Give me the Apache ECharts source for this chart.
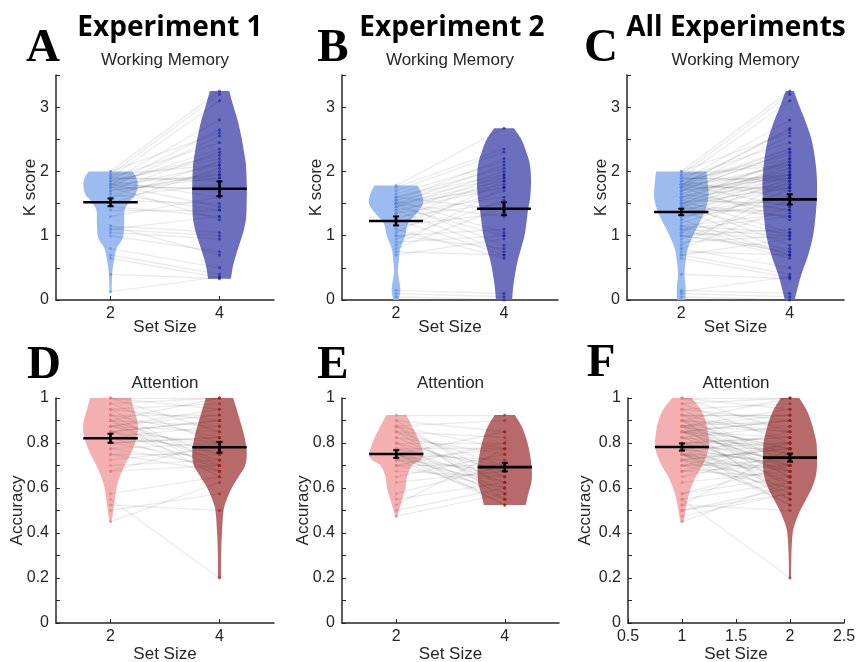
<!DOCTYPE html>
<html>
<head>
<meta charset="utf-8">
<script src="https://cdn.jsdelivr.net/npm/echarts@6/dist/echarts.min.js"></script>
<style>
  html, body { margin: 0; padding: 0; background: #fff; }
  #chart { width: 859px; height: 662px; }
</style>
</head>
<body>
<div id="chart"></div>
<script>
// ---- data ----
const setSizes = [2, 4];
const setSizesF = [1, 2];

// working memory K scores, one entry per subject (set size 2 / set size 4)
const exp1K2 = [2.0,2.0,1.95,1.95,1.9,1.9,1.9,1.9,1.85,1.85,1.85,1.85,1.8,1.8,1.8,1.8,1.8,1.75,1.75,1.75,1.75,1.7,1.7,1.7,1.65,1.65,1.6,1.6,1.55,1.5,1.45,1.4,1.3,1.15,1.15,1.1,1.1,1.05,1.0,0.8,0.7,0.65,0.4,0.13];
const exp1K4 = [3.25,2.6,3.2,2.1,3.1,2.45,1.85,1.9,2.8,2.2,1.6,2.25,2.65,2.35,1.95,1.45,1.7,2.55,2.1,1.75,1.25,2.3,1.9,1.95,2.0,1.4,1.8,2.15,1.5,2.05,1.3,1.4,1.6,1.05,0.7,1.3,1.0,0.95,0.75,0.5,0.4,0.35,0.33,0.36];
const exp2K2 = [1.78,1.75,1.7,1.65,1.6,1.6,1.6,1.55,1.55,1.55,1.5,1.5,1.5,1.5,1.5,1.45,1.45,1.45,1.4,1.4,1.35,1.35,1.3,1.25,1.25,1.2,1.15,1.1,1.05,1.0,1.0,0.95,0.9,0.85,0.8,0.75,0.7,0.15,0.1,0.05];
const exp2K4 = [2.67,2.35,2.3,2.15,2.05,1.95,1.4,2.2,1.9,1.05,2.1,1.85,1.75,1.3,0.85,2.0,1.8,1.0,1.75,0.75,1.95,1.6,1.5,1.9,0.7,1.7,1.35,0.65,1.85,1.1,0.8,1.55,1.0,1.75,1.45,0.7,0.95,0.1,0.05,0.0];

// attention accuracy, one entry per subject
const exp1A2 = [1.0,1.0,1.0,0.975,0.975,0.95,0.95,0.95,0.925,0.925,0.925,0.9,0.9,0.9,0.9,0.875,0.875,0.875,0.875,0.875,0.85,0.85,0.85,0.85,0.85,0.825,0.825,0.825,0.8,0.8,0.8,0.775,0.775,0.75,0.75,0.725,0.7,0.675,0.675,0.575,0.55,0.525,0.5,0.45];
const exp1A4 = [1.0,0.95,0.85,1.0,0.8,0.975,0.9,0.7,0.925,0.825,0.675,1.0,0.875,0.75,0.65,0.95,0.85,0.775,0.725,0.925,0.9,0.8,0.75,0.7,0.9,0.875,0.775,0.675,0.825,0.725,0.825,0.8,0.7,0.75,0.675,0.775,0.725,0.8,0.7,0.65,0.2,0.5,0.575,0.625];
const exp2A2 = [0.925,0.9,0.9,0.875,0.875,0.875,0.875,0.85,0.85,0.85,0.825,0.825,0.8,0.8,0.8,0.775,0.775,0.775,0.775,0.75,0.75,0.75,0.75,0.75,0.75,0.725,0.725,0.725,0.725,0.7,0.7,0.7,0.675,0.65,0.625,0.575,0.55,0.525,0.5,0.475];
const exp2A4 = [0.925,0.85,0.6,0.9,0.775,0.65,0.55,0.825,0.7,0.575,0.75,0.625,0.8,0.675,0.55,0.775,0.7,0.625,0.525,0.85,0.725,0.65,0.6,0.575,0.525,0.775,0.675,0.625,0.55,0.8,0.7,0.6,0.65,0.75,0.675,0.7,0.625,0.775,0.6,0.575];

// violin outlines: [value, relative half width]
const violinA2 = [[0.13,0.04],[0.4,0.06],[0.6,0.12],[0.8,0.22],[0.9,0.37],[1.0,0.47],[1.2,0.5],[1.4,0.52],[1.55,0.74],[1.65,0.93],[1.8,1.0],[1.9,0.95],[2.0,0.8]];
const violinA4 = [[0.33,0.42],[0.5,0.48],[0.62,0.55],[0.8,0.68],[0.93,0.78],[1.1,0.9],[1.3,0.98],[1.6,1.0],[1.8,1.0],[2.1,0.97],[2.3,0.9],[2.5,0.82],[2.7,0.72],[2.85,0.63],[3.0,0.52],[3.15,0.42],[3.25,0.36]];
const violinB2 = [[0,0.1],[0.15,0.16],[0.3,0.12],[0.45,0.07],[0.6,0.1],[0.8,0.16],[1.0,0.34],[1.2,0.46],[1.35,0.77],[1.5,1.0],[1.65,0.95],[1.78,0.8]];
const violinB4 = [[0,0.3],[0.2,0.34],[0.4,0.41],[0.6,0.5],[0.8,0.63],[1.0,0.76],[1.2,0.83],[1.4,0.89],[1.6,0.97],[1.85,1.0],[2.1,0.96],[2.3,0.83],[2.5,0.64],[2.67,0.37]];
const violinC2 = [[0,0.16],[0.2,0.16],[0.4,0.12],[0.6,0.16],[0.8,0.24],[1.0,0.43],[1.2,0.67],[1.4,0.89],[1.6,1.0],[1.8,0.98],[2.0,0.93]];
const violinC4 = [[0,0.18],[0.2,0.3],[0.4,0.43],[0.7,0.68],[1.0,0.86],[1.3,0.95],[1.6,1.0],[1.9,1.0],[2.2,0.93],[2.5,0.8],[2.8,0.56],[3.0,0.37],[3.25,0.15]];
const violinD2 = [[0.45,0.04],[0.5,0.1],[0.55,0.16],[0.6,0.22],[0.65,0.34],[0.7,0.52],[0.75,0.73],[0.8,0.9],[0.85,1.0],[0.9,0.98],[0.95,0.86],[1.0,0.75]];
const violinD4 = [[0.2,0.06],[0.3,0.06],[0.4,0.09],[0.5,0.15],[0.55,0.27],[0.6,0.45],[0.65,0.7],[0.7,0.94],[0.75,1.0],[0.8,0.96],[0.85,0.87],[0.9,0.75],[0.95,0.63],[1.0,0.5]];
const violinE2 = [[0.475,0.04],[0.5,0.1],[0.55,0.22],[0.6,0.34],[0.65,0.4],[0.7,0.58],[0.725,0.9],[0.75,1.0],[0.775,0.95],[0.825,0.79],[0.875,0.58],[0.925,0.37]];
const violinE4 = [[0.525,0.77],[0.575,0.87],[0.625,0.98],[0.675,1.0],[0.725,0.96],[0.775,0.89],[0.825,0.78],[0.875,0.62],[0.925,0.37]];
const violinF2 = [[0.45,0.06],[0.5,0.13],[0.55,0.21],[0.6,0.33],[0.65,0.51],[0.7,0.75],[0.75,0.93],[0.8,1.0],[0.85,0.96],[0.9,0.87],[0.95,0.69],[1.0,0.36]];
const violinF4 = [[0.2,0.04],[0.3,0.05],[0.4,0.1],[0.45,0.21],[0.5,0.38],[0.55,0.6],[0.6,0.81],[0.65,0.95],[0.7,1.0],[0.75,1.0],[0.8,0.98],[0.85,0.89],[0.9,0.77],[0.95,0.6],[1.0,0.34]];

// group means and standard errors [set 2, set 4]
const meansA = [1.52, 1.73], seA = [0.06, 0.115];
const meansB = [1.23, 1.42], seB = [0.07, 0.10];
const meansC = [1.37, 1.565], seC = [0.05, 0.08];
const meansD = [0.821, 0.781], seD = [0.02, 0.024];
const meansE = [0.751, 0.693], seE = [0.017, 0.019];
const meansF = [0.782, 0.735], seF = [0.016, 0.018];

const kTickLabels = [0, 1, 2, 3];
const kTicks = [0, 0.5, 1, 1.5, 2, 2.5, 3, 3.5];
const accTickLabels = [0, 0.2, 0.4, 0.6, 0.8, 1];
const accTicks = [0, 0.1, 0.2, 0.3, 0.4, 0.5, 0.6, 0.7, 0.8, 0.9, 1];

const headers = ['Experiment 1', 'Experiment 2', 'All Experiments'];
const letters = ['A', 'B', 'C', 'D', 'E', 'F'];

// ---- styling ----
const axisColor = '#262626';
const font = 'Liberation Sans';
const wm = { fill: ['#93b5f0', '#5f62b8'], dot: ['#5a88e2', '#1c1ca2'] };
const att = { fill: ['#f3a9a9', '#b25c5c'], dot: ['#e27a7a', '#9a1e1e'] };

const panels = [
  { grid: { left: 56, top: 75, width: 218, height: 225 }, xs: setSizes, hw: 0.5, k2: exp1K2, k4: exp1K4, violins: [violinA2, violinA4], means: meansA, se: seA, col: wm, type: 'wm', yGap: 17 },
  { grid: { left: 342, top: 75, width: 216, height: 225 }, xs: setSizes, hw: 0.5, k2: exp2K2, k4: exp2K4, violins: [violinB2, violinB4], means: meansB, se: seB, col: wm, type: 'wm', yGap: 17 },
  { grid: { left: 627, top: 75, width: 217, height: 225 }, xs: setSizes, hw: 0.5, k2: exp1K2.concat(exp2K2), k4: exp1K4.concat(exp2K4), violins: [violinC2, violinC4], means: meansC, se: seC, col: wm, type: 'wm', yGap: 17 },
  { grid: { left: 56, top: 398, width: 218, height: 225 }, xs: setSizes, hw: 0.5, k2: exp1A2, k4: exp1A4, violins: [violinD2, violinD4], means: meansD, se: seD, col: att, type: 'att', yGap: 30 },
  { grid: { left: 342, top: 398, width: 217, height: 225 }, xs: setSizes, hw: 0.5, k2: exp2A2, k4: exp2A4, violins: [violinE2, violinE4], means: meansE, se: seE, col: att, type: 'att', yGap: 30 },
  { grid: { left: 628, top: 398, width: 216, height: 225 }, xs: setSizesF, hw: 0.25, k2: exp1A2.concat(exp2A2), k4: exp1A4.concat(exp2A4), violins: [violinF2, violinF4], means: meansF, se: seF, col: att, type: 'att', yGap: 34, numericX: true }
];

// catmull-rom through the outline pixels so the sides look smooth but the flat ends stay flat
function smoothSide(pts) {
  const out = [];
  for (let k = 0; k < pts.length - 1; k++) {
    const p0 = pts[Math.max(k - 1, 0)], p1 = pts[k], p2 = pts[k + 1], p3 = pts[Math.min(k + 2, pts.length - 1)];
    for (let s = 0; s < 8; s++) {
      const t = s / 8, t2 = t * t, t3 = t2 * t;
      out.push([0, 1].map(c => 0.5 * ((2 * p1[c]) + (-p0[c] + p2[c]) * t + (2 * p0[c] - 5 * p1[c] + 4 * p2[c] - p3[c]) * t2 + (-p0[c] + 3 * p1[c] - 3 * p2[c] + p3[c]) * t3)));
    }
  }
  out.push(pts[pts.length - 1]);
  return out;
}

function violinRender(p) {
  return function (params, api) {
    const i = params.dataIndex;
    const prof = p.violins[i];
    const xc = p.xs[i];
    const left = smoothSide(prof.map(d => api.coord([xc - d[1] * p.hw, d[0]])));
    const right = smoothSide(prof.map(d => api.coord([xc + d[1] * p.hw, d[0]]))).reverse();
    return {
      type: 'polygon',
      shape: { points: left.concat(right) },
      style: { fill: p.col.fill[i], opacity: 0.92 }
    };
  };
}

function meanRender(p) {
  return function (params, api) {
    const i = params.dataIndex;
    const xc = p.xs[i];
    const a = api.coord([xc - p.hw, p.means[i]]);
    const b = api.coord([xc + p.hw, p.means[i]]);
    const top = api.coord([xc, p.means[i] + p.se[i]]);
    const bot = api.coord([xc, p.means[i] - p.se[i]]);
    const st = { stroke: '#000', lineWidth: 2.6 };
    return {
      type: 'group',
      children: [
        { type: 'line', shape: { x1: a[0], y1: a[1], x2: b[0], y2: b[1] }, style: st },
        { type: 'line', shape: { x1: top[0], y1: top[1], x2: bot[0], y2: bot[1] }, style: st },
        { type: 'line', shape: { x1: top[0] - 3, y1: top[1], x2: top[0] + 3, y2: top[1] }, style: { stroke: '#000', lineWidth: 2 } },
        { type: 'line', shape: { x1: bot[0] - 3, y1: bot[1], x2: bot[0] + 3, y2: bot[1] }, style: { stroke: '#000', lineWidth: 2 } }
      ]
    };
  };
}

const grids = [], xAxes = [], yAxes = [], series = [];
panels.forEach((p, i) => {
  grids.push(Object.assign({ outerBoundsMode: 'none' }, p.grid));
  const labelStyle = { color: axisColor, fontSize: 16, fontFamily: font };
  const nameStyle = { color: axisColor, fontSize: 17, fontFamily: font };
  const x = {
    gridIndex: i, type: 'value',
    min: p.numericX ? 0.5 : 1, max: p.numericX ? 2.5 : 5,
    name: 'Set Size', nameLocation: 'middle', nameGap: i < 3 ? 19 : 23, nameMoveOverlap: false,
    nameTextStyle: nameStyle,
    axisLine: { onZero: false, lineStyle: { color: axisColor, width: 1.5 } },
    axisTick: { inside: true, length: 4, lineStyle: { color: axisColor } },
    axisLabel: Object.assign({ margin: 6 }, labelStyle),
    splitLine: { show: false }
  };
  if (p.numericX) {
    x.interval = 0.5;
  } else {
    x.axisTick.customValues = setSizes;
    x.axisLabel.customValues = setSizes;
  }
  xAxes.push(x);
  const isWm = p.type === 'wm';
  yAxes.push({
    gridIndex: i, type: 'value', min: 0, max: isWm ? 3.5 : 1,
    name: isWm ? 'K score' : 'Accuracy', nameLocation: 'middle', nameGap: p.yGap, nameMoveOverlap: false,
    nameTextStyle: nameStyle,
    axisLine: { show: true, lineStyle: { color: axisColor, width: 1.5 } },
    axisTick: { show: true, inside: true, length: 4, customValues: isWm ? kTicks : accTicks, lineStyle: { color: axisColor } },
    axisLabel: Object.assign({ margin: 7, customValues: isWm ? kTickLabels : accTickLabels }, labelStyle),
    splitLine: { show: false }
  });

  series.push({
    type: 'custom', xAxisIndex: i, yAxisIndex: i, z: 1, silent: true,
    renderItem: violinRender(p),
    data: p.xs.map((xv, j) => [xv, p.means[j]])
  });
  series.push({
    type: 'lines', coordinateSystem: 'cartesian2d', xAxisIndex: i, yAxisIndex: i, z: 5, silent: true,
    lineStyle: { color: 'rgba(30,30,30,0.17)', width: 1.4 },
    data: p.k2.map((v, j) => ({ coords: [[p.xs[0], v], [p.xs[1], p.k4[j]]] }))
  });
  [p.k2, p.k4].forEach((vals, j) => {
    series.push({
      type: 'scatter', xAxisIndex: i, yAxisIndex: i, z: 6, silent: true,
      symbolSize: 3, itemStyle: { color: p.col.dot[j], opacity: 0.65 },
      data: vals.map(v => [p.xs[j], v])
    });
  });
  series.push({
    type: 'custom', xAxisIndex: i, yAxisIndex: i, z: 7, silent: true,
    renderItem: meanRender(p),
    data: p.xs.map((xv, j) => [xv, p.means[j]])
  });
});

const graphic = [];
const headerX = [170, 452, 736];
headers.forEach((h, i) => {
  graphic.push({ type: 'text', x: headerX[i], y: 28, style: { text: h, font: 'bold 28px "Open Sans"', fill: '#000', textAlign: 'center', textVerticalAlign: 'middle' } });
});
const letterPos = [[43, 49], [333, 49], [601, 49], [44, 366], [333, 366], [601, 364]];
letters.forEach((l, i) => {
  graphic.push({ type: 'text', x: letterPos[i][0], y: letterPos[i][1], style: { text: l, font: 'bold 47px "Liberation Serif"', fill: '#000', textAlign: 'center', textVerticalAlign: 'middle' } });
});
panels.forEach((p, i) => {
  graphic.push({
    type: 'text', x: p.grid.left + p.grid.width / 2, y: i < 3 ? 60 : 383,
    style: { text: p.type === 'wm' ? 'Working Memory' : 'Attention', font: '17px "Liberation Sans"', fill: axisColor, textAlign: 'center', textVerticalAlign: 'middle' }
  });
});

const chart = echarts.init(document.getElementById('chart'));
chart.setOption({
  animation: false,
  backgroundColor: '#fff',
  grid: grids,
  xAxis: xAxes,
  yAxis: yAxes,
  series: series,
  graphic: graphic
});
</script>
</body>
</html>
